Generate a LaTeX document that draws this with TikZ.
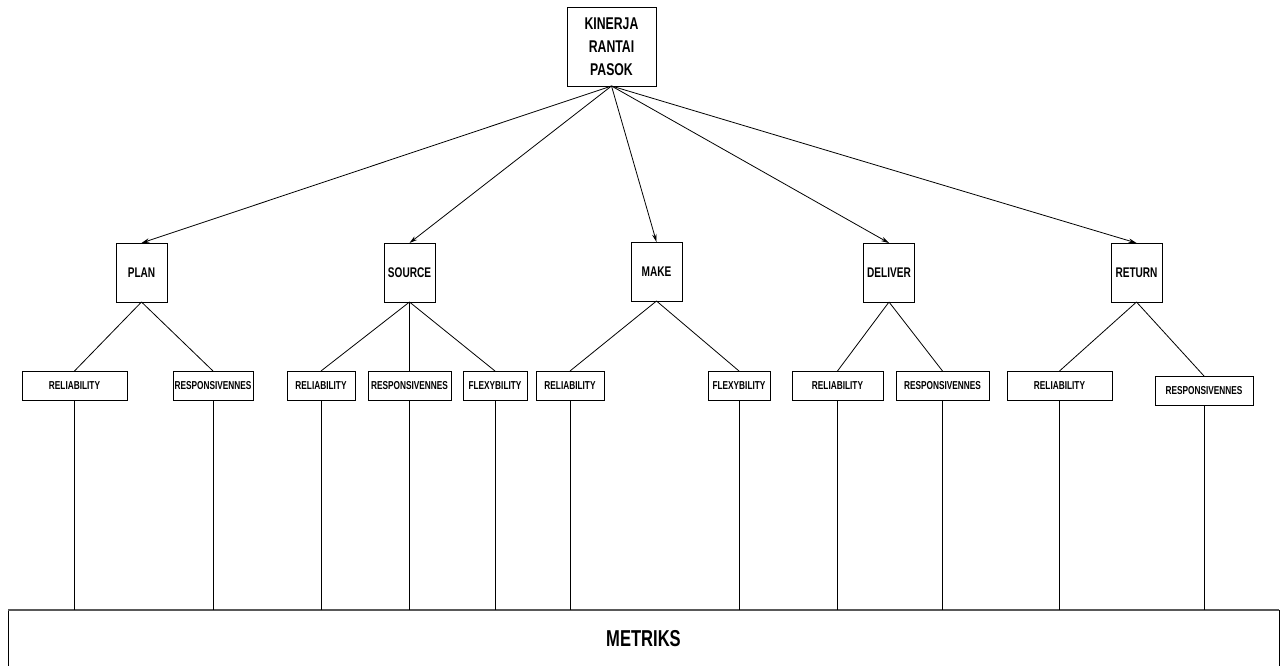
\documentclass[tikz,border=0pt]{standalone}
\usepackage{fontspec}
\setmainfont{Liberation Sans}[FakeStretch=0.72]
\usetikzlibrary{arrows.meta}
\begin{document}
\begin{tikzpicture}[x=1pt,y=-1pt,
  every node/.style={inner sep=0pt,outer sep=0pt,align=center},
  topbox/.style={draw,line width=0.9pt,minimum width=89pt,minimum height=79pt,font=\fontsize{17}{23}\selectfont\bfseries},
  midbox/.style={draw,line width=0.9pt,minimum width=51pt,minimum height=59pt,font=\fontsize{14}{16}\selectfont\bfseries},
  leafbox/.style={draw,line width=0.9pt,minimum height=29pt,font=\fontsize{11.5}{13}\selectfont\bfseries},
  metbox/.style={draw,line width=0.9pt,minimum width=1271pt,minimum height=60pt,font=\fontsize{23}{26}\selectfont\bfseries},
  arr/.style={-{Stealth[length=8pt,width=4.5pt]},line width=0.8pt},
  conn/.style={line width=0.8pt}]
\useasboundingbox (0,0) rectangle (1283,666);
% top
\node[topbox] (top) at (611.5,46.5) {KINERJA\\RANTAI\\PASOK};
% second level
\node[midbox] (plan) at (141.5,272.5) {PLAN};
\node[midbox] (source) at (409.5,272.5) {SOURCE};
\node[midbox] (make) at (656.5,271.5) {MAKE};
\node[midbox] (deliver) at (889,272.5) {DELIVER};
\node[midbox] (return) at (1136.5,272.5) {RETURN};
% leaves
\node[leafbox,minimum width=105pt] (p1) at (74.5,385.5) {RELIABILITY};
\node[leafbox,minimum width=80pt] (p2) at (213,385.5) {RESPONSIVENNES};
\node[leafbox,minimum width=68pt] (s1) at (321,385.5) {RELIABILITY};
\node[leafbox,minimum width=83pt] (s2) at (409.5,385.5) {RESPONSIVENNES};
\node[leafbox,minimum width=64pt] (s3) at (495,385.5) {FLEXYBILITY};
\node[leafbox,minimum width=68pt] (m1) at (570,385.5) {RELIABILITY};
\node[leafbox,minimum width=62pt] (m2) at (739,385.5) {FLEXYBILITY};
\node[leafbox,minimum width=91pt] (d1) at (837.5,385.5) {RELIABILITY};
\node[leafbox,minimum width=93pt] (d2) at (942.5,385.5) {RESPONSIVENNES};
\node[leafbox,minimum width=105pt] (r1) at (1059.5,385.5) {RELIABILITY};
\node[leafbox,minimum width=98pt] (r2) at (1204,390.5) {RESPONSIVENNES};
% bottom (lower edge lies just below the picture)
\node[metbox] (met) at (643.5,640) {\raisebox{2.5pt}{METRIKS}};
\draw[line width=1.4pt,draw=black!65] (met.north west) -- (met.north east);
% arrows
\foreach \c in {plan,source,make,deliver,return}
  \draw[arr] (top.south) -- (\c.north);
% tree lines
\draw[conn] (plan.south) -- (p1.north);
\draw[conn] (plan.south) -- (p2.north);
\draw[conn] (source.south) -- (s1.north);
\draw[conn] (source.south) -- (s2.north);
\draw[conn] (source.south) -- (s3.north);
\draw[conn] (make.south) -- (m1.north);
\draw[conn] (make.south) -- (m2.north);
\draw[conn] (deliver.south) -- (d1.north);
\draw[conn] (deliver.south) -- (d2.north);
\draw[conn] (return.south) -- (r1.north);
\draw[conn] (return.south) -- (r2.north);
% verticals to metrics
\foreach \n in {p1,p2,s1,s2,s3,m1,m2,d1,d2,r1,r2}
  \draw[conn] (\n.south) -- (\n.south |- met.north);
\end{tikzpicture}
\end{document}
